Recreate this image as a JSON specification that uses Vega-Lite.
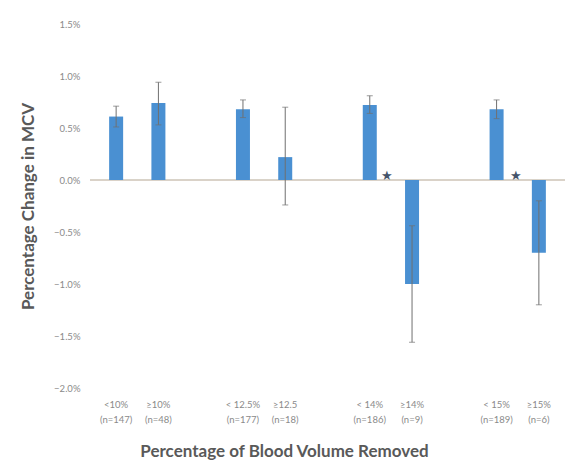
{
  "$schema": "https://vega.github.io/schema/vega-lite/v6.json",
  "autosize": "none",
  "width": 475,
  "height": 364,
  "padding": {"left": 90, "top": 24, "right": 11, "bottom": 78},
  "background": "white",
  "config": {"view": {"stroke": null}, "font": "Lato"},
  "datasets": {
    "bars": [
      {"pos": 0, "line1": "<10%", "line2": "(n=147)", "mean": 0.0061, "lo": 0.0051, "hi": 0.0071},
      {"pos": 1, "line1": "≥10%", "line2": "(n=48)", "mean": 0.0074, "lo": 0.0053, "hi": 0.0094},
      {"pos": 3, "line1": "< 12.5%", "line2": "(n=177)", "mean": 0.0068, "lo": 0.0060, "hi": 0.0077},
      {"pos": 4, "line1": "≥12.5", "line2": "(n=18)", "mean": 0.0022, "lo": -0.0024, "hi": 0.0070},
      {"pos": 6, "line1": "< 14%", "line2": "(n=186)", "mean": 0.0072, "lo": 0.0064, "hi": 0.0081},
      {"pos": 7, "line1": "≥14%", "line2": "(n=9)", "mean": -0.0100, "lo": -0.0156, "hi": -0.0044},
      {"pos": 9, "line1": "< 15%", "line2": "(n=189)", "mean": 0.0068, "lo": 0.0059, "hi": 0.0077},
      {"pos": 10, "line1": "≥15%", "line2": "(n=6)", "mean": -0.0070, "lo": -0.0120, "hi": -0.0020}
    ],
    "stars": [
      {"pos": 6.4, "y": 0.0004},
      {"pos": 9.45, "y": 0.0004}
    ]
  },
  "layer": [
    {
      "data": {"name": "bars"},
      "mark": {"type": "rule", "color": "#d9d2c8", "strokeWidth": 1},
      "encoding": {"y": {"datum": 0}}
    },
    {
      "data": {"name": "bars"},
      "mark": {"type": "bar", "size": 14, "color": "#4a90d2"},
      "encoding": {
        "x": {
          "field": "pos", "type": "quantitative",
          "scale": {"domain": [-0.5, 10.5], "nice": false, "zero": false},
          "axis": {
            "labels": false, "ticks": false, "domain": false, "grid": false,
            "title": "Percentage of Blood Volume Removed",
            "titleFontSize": 17, "titleFontWeight": "bold", "titleColor": "#595959",
            "titlePadding": 55, "titleX": 194, "titleAlign": "center", "titleAnchor": "start"
          }
        },
        "y": {
          "field": "mean", "type": "quantitative",
          "scale": {"domain": [-0.02, 0.015], "nice": false},
          "axis": {
            "values": [-0.02, -0.015, -0.01, -0.005, 0, 0.005, 0.01, 0.015],
            "format": ".1%", "grid": false, "ticks": false, "domain": false,
            "labelFontSize": 9.5, "labelColor": "#8a8a8a", "labelPadding": 10,
            "title": "Percentage Change in MCV",
            "titleFontSize": 17, "titleFontWeight": "bold", "titleColor": "#595959",
            "titlePadding": 16
          }
        }
      }
    },
    {
      "data": {"name": "bars"},
      "mark": {"type": "rule", "color": "#707070", "strokeWidth": 1},
      "encoding": {
        "x": {"field": "pos", "type": "quantitative"},
        "y": {"field": "lo", "type": "quantitative"},
        "y2": {"field": "hi"}
      }
    },
    {
      "data": {"name": "bars"},
      "mark": {"type": "tick", "color": "#707070", "orient": "horizontal", "size": 6, "thickness": 1},
      "encoding": {
        "x": {"field": "pos", "type": "quantitative"},
        "y": {"field": "hi", "type": "quantitative"}
      }
    },
    {
      "data": {"name": "bars"},
      "mark": {"type": "tick", "color": "#707070", "orient": "horizontal", "size": 6, "thickness": 1},
      "encoding": {
        "x": {"field": "pos", "type": "quantitative"},
        "y": {"field": "lo", "type": "quantitative"}
      }
    },
    {
      "data": {"name": "bars"},
      "mark": {"type": "text", "fontSize": 9.5, "color": "#8a8a8a", "baseline": "top", "dy": 12},
      "encoding": {
        "x": {"field": "pos", "type": "quantitative"},
        "y": {"datum": -0.02},
        "text": {"field": "line1"}
      }
    },
    {
      "data": {"name": "bars"},
      "mark": {"type": "text", "fontSize": 9.5, "color": "#8a8a8a", "baseline": "top", "dy": 27},
      "encoding": {
        "x": {"field": "pos", "type": "quantitative"},
        "y": {"datum": -0.02},
        "text": {"field": "line2"}
      }
    },
    {
      "data": {"name": "stars"},
      "mark": {"type": "text", "fontSize": 13, "color": "#44546a", "baseline": "middle", "text": "★"},
      "encoding": {
        "x": {"field": "pos", "type": "quantitative"},
        "y": {"field": "y", "type": "quantitative"}
      }
    }
  ]
}
